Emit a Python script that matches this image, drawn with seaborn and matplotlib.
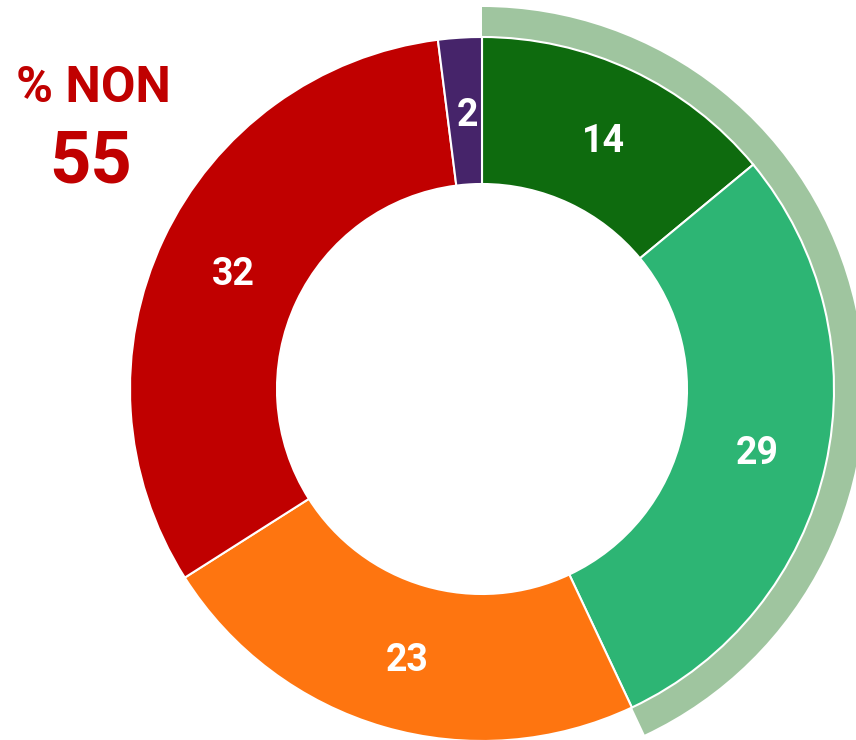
import matplotlib
matplotlib.use("Agg")
import matplotlib.pyplot as plt
import seaborn as sns
import numpy as np

# donut data
categories = ["Oui tout à fait", "Oui plutôt", "Non plutôt pas", "Non pas du tout", "NSP"]
values = [14, 29, 23, 32, 2]
colors = ["#0e6b0e", "#2db574", "#fe7510", "#c00000", "#46246a"]

# outer ring: share of "oui"
outer_values = [values[0] + values[1], sum(values) - values[0] - values[1]]
outer_colors = ["#9fc59f", "none"]

non_label = "% NON"
non_value = values[2] + values[3]

sns.set_theme(style="white")
plt.rcParams["font.family"] = ["Roboto", "DejaVu Sans"]

fig = plt.figure(figsize=(8.56, 7.40), dpi=100)
ax = fig.add_axes([0, 0, 1, 1])

cx, cy = 482, 740 - 389
r_out = 352
r_in = 205

ax.pie(outer_values, colors=outer_colors, startangle=90, counterclock=False,
       radius=382, center=(cx, cy), wedgeprops=dict(width=31, linewidth=0))

wedges, texts = ax.pie(values, colors=colors, startangle=90, counterclock=False,
                       radius=r_out, center=(cx, cy),
                       wedgeprops=dict(width=r_out - r_in, edgecolor="white", linewidth=1.5))

# value labels in the middle of the ring
mid_r = (r_out + r_in) / 2
for w, v in zip(wedges, values):
    ang = np.deg2rad((w.theta1 + w.theta2) / 2)
    ax.text(cx + 3 + mid_r * np.cos(ang), cy - 4 + mid_r * np.sin(ang), str(v),
            ha="center", va="center", color="white", fontsize=27, fontweight="bold")

ax.text(93, 740 - 88, non_label, ha="center", va="center", color="#c00000",
        fontsize=36, fontweight="bold")
ax.text(91, 740 - 163, str(non_value), ha="center", va="center", color="#c00000",
        fontsize=52, fontweight="bold")

ax.set_xlim(0, 856)
ax.set_ylim(0, 740)
ax.set_aspect("equal")
ax.axis("off")

fig.savefig("out.png", dpi=100)
